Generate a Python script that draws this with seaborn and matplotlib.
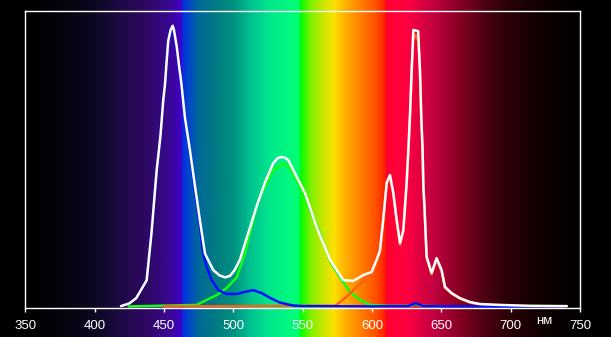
import numpy as np
import pandas as pd
import matplotlib
matplotlib.use("Agg")
import matplotlib.pyplot as plt
import seaborn as sns
from matplotlib.colors import LinearSegmentedColormap

# ---------------- data (relative intensity) ----------------
white_nm = [419, 425, 430, 437.5, 441, 444.7, 447.5, 449.5, 450.7, 452, 453.1, 454.8, 456.3,
            457.2, 459.2, 461, 462.5, 465.1, 468.7, 472.3, 476, 479.6, 485.5, 490, 494, 497.6,
            501, 504.8, 510.8, 516.8, 522.8, 528.8, 532, 534.8, 537, 539.6, 545.7, 551.7, 560.1,
            569.7, 574.5, 579.3, 586.5, 593.7, 599.7, 603.3, 605.7, 608.2, 610.6, 613, 615.4,
            617.8, 620.2, 622.6, 625, 626.2, 627.4, 628.6, 629.8, 633.3, 634.6, 635.5, 636.5,
            637, 638.2, 639.4, 643, 646.6, 650.2, 652.6, 657.4, 663.4, 670.6, 677.8, 692.2,
            713.8, 737.5, 740.5]
white_val = [0.003, 0.012, 0.03, 0.09, 0.25, 0.46, 0.58, 0.70, 0.75, 0.835, 0.90, 0.936, 0.95,
             0.936, 0.88, 0.81, 0.757, 0.64, 0.53, 0.41, 0.29, 0.18, 0.125, 0.107, 0.10, 0.105,
             0.125, 0.16, 0.25, 0.34, 0.42, 0.486, 0.503, 0.507, 0.505, 0.497, 0.44, 0.385, 0.27,
             0.16, 0.125, 0.091, 0.088, 0.108, 0.118, 0.159, 0.19, 0.30, 0.42, 0.446, 0.385,
             0.294, 0.216, 0.26, 0.42, 0.53, 0.65, 0.80, 0.936, 0.932, 0.80, 0.65, 0.53,
             0.42, 0.30, 0.17, 0.115, 0.165, 0.125, 0.068, 0.047, 0.03, 0.017, 0.01, 0.007,
             0.004, 0.003, 0.003]

blue_nm = [419, 425, 430, 437.5, 441, 444.7, 447.5, 449.5, 450.7, 452, 453.1, 454.8, 456.3,
           457.2, 459.2, 461, 462.5, 465.1, 468.7, 472.3, 476, 478.3, 480.8, 484.4, 489.2, 495.2,
           502.4, 508.4, 514.4, 520.4, 526.4, 533.6, 543.2, 550.4, 600, 626, 629, 631.5, 634,
           637, 650, 700, 737]
blue_val = [0.003, 0.012, 0.03, 0.09, 0.25, 0.46, 0.58, 0.70, 0.75, 0.83, 0.89, 0.925, 0.94,
            0.93, 0.87, 0.80, 0.75, 0.63, 0.52, 0.39, 0.27, 0.18, 0.135, 0.091, 0.057, 0.044,
            0.044, 0.051, 0.057, 0.047, 0.031, 0.015, 0.005, 0.003, 0.002, 0.003, 0.008, 0.013,
            0.008, 0.003, 0.002, 0.001, 0.001]

green_nm = [424.5, 473.6, 480.8, 488, 495.2, 502.4, 508.4, 513.2, 518, 522.8, 528.8, 536,
            540.8, 548, 555.3, 562.5, 569.7, 576.9, 584.1, 591.3, 598.5, 610, 628, 631.5, 635, 650]
green_val = [0.002, 0.007, 0.024, 0.04, 0.064, 0.10, 0.18, 0.27, 0.36, 0.405, 0.463, 0.483,
             0.47, 0.405, 0.328, 0.25, 0.155, 0.10, 0.051, 0.024, 0.007, 0.004, 0.004, 0.01,
             0.004, 0.002]

red_nm = [449.8, 573, 574.5, 581.7, 589, 596.1, 601, 603.3, 605.7, 608.2, 610.6, 613, 615.4,
          617.8, 620.2, 622.6, 625, 626.2, 627.4, 628.6, 629.8, 631.5, 633.3, 634.6, 635.5,
          636.5, 637, 638.2, 639.4, 643, 646.6, 650.2, 652.6, 657.4, 663.4, 670.6, 677.8, 692.8]
red_val = [0.002, 0.004, 0.007, 0.035, 0.068, 0.10, 0.125, 0.15, 0.185, 0.295, 0.415, 0.44,
           0.38, 0.29, 0.21, 0.255, 0.415, 0.52, 0.64, 0.79, 0.90, 0.92, 0.90, 0.79, 0.64,
           0.52, 0.41, 0.295, 0.165, 0.11, 0.16, 0.12, 0.065, 0.045, 0.028, 0.015, 0.008, 0.005]

x_ticks = [350, 400, 450, 500, 550, 600, 650, 700, 750]
unit_label = "нм"

# background spectrum stops (wavelength, colour)
spec_nm = [331.8, 355, 380, 400, 420, 440, 455, 462, 463.7, 468, 475, 490, 500, 512, 525, 540,
           547.5, 548.6, 556, 565, 573, 580, 590, 603, 609.5, 610.5, 625, 635, 645, 655, 665,
           680, 695, 710, 730, 750, 772.2]
spec_col = ["#000000", "#010103", "#050410", "#0d0822", "#200a48", "#300868", "#3a0898",
            "#4000c4", "#0030e0", "#0048c8", "#006898", "#008080", "#009080", "#00c090",
            "#00e48c", "#00f880", "#00ff70", "#00ff00", "#80f000", "#c8e800", "#ffe000",
            "#ffb400", "#ff8800", "#ff5000", "#ff2000", "#ff0030", "#ff0040", "#e00040",
            "#c00040", "#a00030", "#800020", "#500014", "#300008", "#1c0004", "#0a0000",
            "#030000", "#000000"]

# ---------------- figure ----------------
sns.set_theme(style="dark")
plt.rcParams['font.family'] = ['Liberation Sans', 'DejaVu Sans']

W, H = 611, 337
fig = plt.figure(figsize=(W / 100, H / 100), dpi=100, facecolor='black')

left_px, right_px, top_px, bot_px = 25.3, 580.0, 11.0, 308.0
px_per_nm = (right_px - left_px) / 400.0
x0 = 350 - left_px / px_per_nm
x1 = 350 + (W - left_px) / px_per_nm

bg = fig.add_axes([0, 0, 1, 1], zorder=0)
pos = [(n - x0) / (x1 - x0) for n in spec_nm]
pos[0], pos[-1] = 0.0, 1.0
cmap = LinearSegmentedColormap.from_list("spec", list(zip(pos, spec_col)), N=1024)
grad = np.linspace(0, 1, 1200)[None, :]
bg.imshow(grad, aspect='auto', cmap=cmap, extent=(x0, x1, 0, 1), interpolation='bilinear')
bg.set_xlim(x0, x1)
bg.set_ylim(0, 1)
bg.axis('off')

ax = fig.add_axes([left_px / W, 1 - bot_px / H, (right_px - left_px) / W, (bot_px - top_px) / H],
                  zorder=1)
ax.patch.set_alpha(0)

df_g = pd.DataFrame({"nm": green_nm, "v": green_val})
df_r = pd.DataFrame({"nm": red_nm, "v": red_val})
df_b = pd.DataFrame({"nm": blue_nm, "v": blue_val})
df_w = pd.DataFrame({"nm": white_nm, "v": white_val})

lw = 1.8
sns.lineplot(data=df_g, x="nm", y="v", ax=ax, color="#10ff10", linewidth=lw, sort=False,
             estimator=None)
sns.lineplot(data=df_r, x="nm", y="v", ax=ax, color="#ff6010", linewidth=lw, sort=False,
             estimator=None)
sns.lineplot(data=df_b, x="nm", y="v", ax=ax, color="#0010ff", linewidth=lw, sort=False,
             estimator=None)
sns.lineplot(data=df_w, x="nm", y="v", ax=ax, color="#ffffff", linewidth=lw, sort=False,
             estimator=None)

ax.set_xlim(350, 750)
ax.set_ylim(-0.0034, 1.0)
ax.set_xticks(x_ticks)
ax.set_xticklabels([str(t) for t in x_ticks])
ax.set_yticks([])
ax.set_xlabel("")
ax.set_ylabel("")
ax.grid(False)
for s in ax.spines.values():
    s.set_visible(True)
    s.set_color("white")
    s.set_linewidth(1.0)
ax.tick_params(axis='x', colors='white', direction='out', length=3, width=1, pad=5.5,
               labelsize=9.5, labelcolor='white', bottom=True)

fig.text(544 / W, 1 - 321 / H, unit_label, color='white', fontsize=9.5, ha='center',
         va='center')

fig.savefig("out.png", dpi=100, facecolor='black')
